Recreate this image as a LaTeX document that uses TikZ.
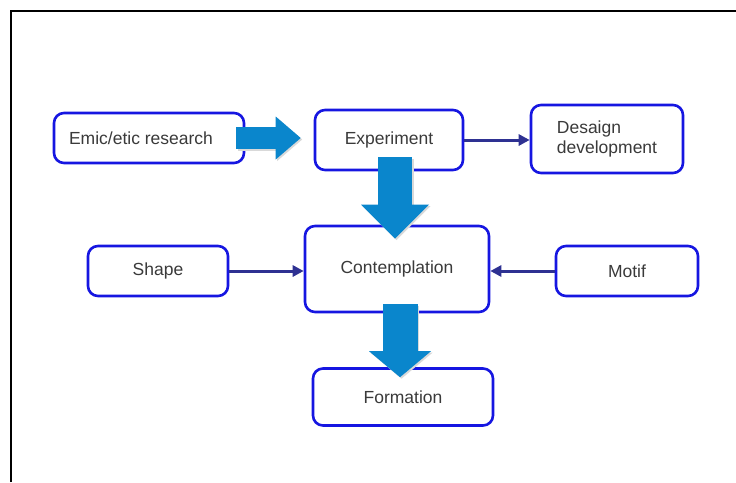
\documentclass[tikz,border=0pt]{standalone}
\usepackage{fontspec}
\setmainfont{Liberation Sans}
\usetikzlibrary{arrows.meta}
\definecolor{boxblue}{RGB}{22,22,225}
\definecolor{fatblue}{RGB}{10,134,204}
\definecolor{navy}{RGB}{46,49,146}
\definecolor{txt}{RGB}{58,58,58}
\begin{document}
\begin{tikzpicture}[x=1pt, y=-1pt,
  box/.style={draw=boxblue, line width=2.6pt, rounded corners=10pt, fill=white, text=txt, align=center, inner sep=0pt},
  link/.style={draw=navy, line width=3pt, -{Triangle[length=11pt,width=11pt]}},
  fat/.style n args={3}{draw=fatblue, line width=#1, -{Triangle[length=#2,width=#3,line width=0pt]}},
  glow/.style={draw=gray!30, transform canvas={shift={(1.5pt,-1.5pt)}}},
  every node/.style={font=\fontsize{17.5}{20}\selectfont}
]
\useasboundingbox (0,0) rectangle (736,482);
\draw[line width=2.2pt] (11,482) -- (11,11) -- (736,11);
\node[box, minimum width=190pt, minimum height=50pt] (r) at (149,138) {Emic/etic research\hspace{16pt}};
\node[box, minimum width=148pt, minimum height=60pt] (x) at (389,140) {Experiment};
\node[box, minimum width=152pt, minimum height=68pt, align=left] (d) at (607,139) {Desaign\\development\hspace{8pt}};
\node[box, minimum width=140pt, minimum height=50pt] (s) at (158,271) {Shape};
\node[box, minimum width=184pt, minimum height=86pt] (c) at (397,269) {Contemplation};
\node[box, minimum width=142pt, minimum height=50pt] (m) at (627,271) {Motif};
\node[box, minimum width=180pt, minimum height=57pt] (f) at (403,397) {Formation};
\draw[link] (x.east) -- (x.east -| d.west);
\draw[link] (s.east) -- (s.east -| c.west);
\draw[link] (m.west) -- (m.west -| c.east);
% block arrows
\draw[fat={22pt}{25pt}{43pt}, glow] ([xshift=-9pt]r.east) -- ([xshift=-13pt,yshift=2pt]x.west);
\draw[fat={22pt}{25pt}{43pt}] ([xshift=-9pt]r.east) -- ([xshift=-13pt,yshift=2pt]x.west);
\draw[fat={34pt}{34pt}{68pt}, glow] ([xshift=6pt,yshift=14pt]x.south) -- ([xshift=-2pt,yshift=-14pt]c.north);
\draw[fat={34pt}{34pt}{68pt}] ([xshift=6pt,yshift=14pt]x.south) -- ([xshift=-2pt,yshift=-14pt]c.north);
\draw[fat={35pt}{26pt}{62pt}, glow] ([xshift=3pt,yshift=9pt]c.south) -- ([xshift=-3pt,yshift=-10pt]f.north);
\draw[fat={35pt}{26pt}{62pt}] ([xshift=3pt,yshift=9pt]c.south) -- ([xshift=-3pt,yshift=-10pt]f.north);
\end{tikzpicture}
\end{document}
